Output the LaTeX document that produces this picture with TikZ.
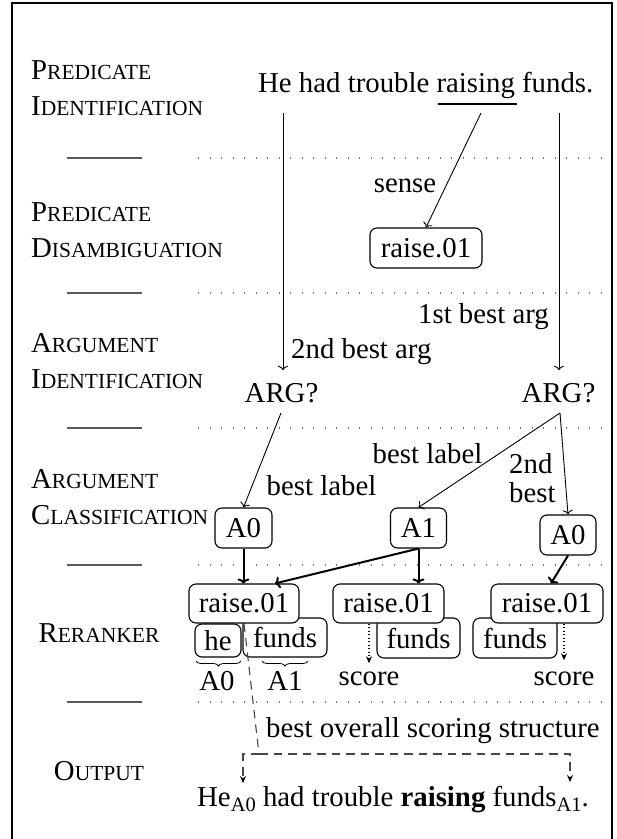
\documentclass[tikz,border=0pt]{standalone}
\usepackage{fontspec}
\setmainfont{Liberation Serif}
\usetikzlibrary{arrows.meta,decorations.pathreplacing}
\newcommand\fs{\fontsize{28.8}{34}\selectfont}
\newcommand\scz{\fontsize{21.5}{26}\selectfont}
\newcommand\SC[2]{#1{\scz #2}}
\newcommand\subs[1]{\raisebox{-5pt}{\fontsize{20.5}{24}\selectfont #1}}
\begin{document}
\begin{tikzpicture}[x=1pt,y=-1pt,
  every node/.style={inner sep=0pt, font=\fs},
  lab/.style={anchor=base west},
  box/.style={draw, rounded corners=7pt, line width=1.1pt, fill=white, inner sep=0pt},
  arr/.style={-{To[length=4.5pt,width=10pt]}, line width=0.9pt},
  tarr/.style={-{To[length=5pt,width=12pt]}, line width=2pt},
  dashline/.style={dash pattern=on 8.5pt off 6pt, line width=1.1pt, draw=black!72},
  sarr/.style={-{Stealth[length=7pt,width=6pt,color=black]}},
  dotarr/.style={dash pattern=on 1pt off 2.5pt, line width=1.1pt, -{Stealth[length=7pt,width=6pt]}},
  sepline/.style={draw=black!65, line width=1.3pt},
  sepdots/.style={draw=black!55, line width=1.2pt, dash pattern=on 1.2pt off 10.3pt},
  brc/.style={decorate, decoration={brace, mirror, amplitude=5pt}, line width=0.8pt}
]
\useasboundingbox (0,0) rectangle (617,839);
\draw[line width=2.6pt] (12,3) rectangle (612,843);

% stage labels
\node[lab] (L1a) at (31,79) {\SC{P}{REDICATE}};
\node[lab] (L1b) at (31,115) {\SC{I}{DENTIFICATION}};
\node[lab] (L2a) at (31,221) {\SC{P}{REDICATE}};
\node[lab] (L2b) at (31,257) {\SC{D}{ISAMBIGUATION}};
\node[lab] (L3a) at (31,352) {\SC{A}{RGUMENT}};
\node[lab] (L3b) at (31,388) {\SC{I}{DENTIFICATION}};
\node[lab] (L4a) at (31,488) {\SC{A}{RGUMENT}};
\node[lab] (L4b) at (31,524) {\SC{C}{LASSIFICATION}};
\node[anchor=base] (L5) at (99,642) {\SC{R}{ERANKER}};
\node[anchor=base] (L6) at (99,780) {\SC{O}{UTPUT}};

% separators
\foreach \yy in {158,293,428,565,702}{
  \draw[sepline] (67,\yy) -- (142,\yy);
  \draw[sepdots] (198,\yy) -- (612,\yy);
}

% row 1
\node[anchor=base west] (sent) at (258,92) {He had trouble raising funds.};
\draw[line width=1.6pt] (438,104) -- (516.5,104);
\coordinate (s1) at (283,113);
\coordinate (s2) at (559,113);
\coordinate (s3) at (481,113);

% row 2
\node[box, minimum width=112pt, minimum height=40pt] (rtop) at (426,248) {raise.01};
\node[anchor=base] (sense) at (405,192) {sense};
\draw[arr] (s3) -- (rtop.north);

% row 3
\node[anchor=base] (arg1) at (281.5,402) {ARG?};
\node[anchor=base] (arg2) at (558.5,402) {ARG?};
\draw[arr, shorten >=12.5pt] (s1) -- (s1 |- arg1.north);
\draw[arr, shorten >=12.5pt] (s2) -- (s2 |- arg2.north);
\node[anchor=base east] (lab1st) at (549,323) {1st best arg};
\node[anchor=base west] (lab2nd) at (291,358) {2nd best arg};

% row 4
\node[box, minimum width=57pt, minimum height=40pt] (c1) at (243.5,528) {A0};
\node[box, minimum width=56pt, minimum height=40pt] (c2) at (418.5,528) {A1};
\node[box, minimum width=56pt, minimum height=40pt] (c3) at (568,535) {A0};
\coordinate (a1s) at (281,413);
\coordinate (a2s) at (560,413);
\draw[arr] (a1s) -- (c1.north);
\draw[arr] (a2s) -- (c2.north);
\draw[arr] (a2s) -- (c3.north);
\node[anchor=base] (bl1) at (321.5,495) {best label};
\node[anchor=base] (bl2) at (427.5,463) {best label};
\node[anchor=base west] (nd1) at (509,473) {2nd};
\node[anchor=base west] (nd2) at (509,502) {best};

% row 5
\node[box, minimum width=46pt, minimum height=33pt] (he) at (218,640.5) {he};
\node[box, minimum width=84pt, minimum height=39pt] (f1) at (285,637.5) {funds};
\node[box, minimum width=110pt, minimum height=39pt] (r1) at (244,603.5) {raise.01};
\node[box, minimum width=83pt, minimum height=40pt] (f2) at (418.5,638) {funds};
\node[box, minimum width=111pt, minimum height=39pt] (r2) at (388.5,603.5) {raise.01};
\node[box, minimum width=84pt, minimum height=40pt] (f3) at (515,638) {funds};
\node[box, minimum width=112pt, minimum height=39pt] (r3) at (547,603.5) {raise.01};

\draw[tarr] (c1.south) -- (c1.south |- r1.north);
\draw[tarr] (c2.south) -- ([xshift=31pt]r1.north);
\draw[tarr] (c2.south) -- (c2.south |- r2.north);
\draw[tarr] (c3.south) -- ([xshift=4pt]r3.north);

\draw[brc] (196,661) -- (241,661);
\draw[brc] (262,661) -- (308,661);
\node[anchor=base] (bA0) at (217,690) {A0};
\node[anchor=base] (bA1) at (285,690) {A1};

\node[anchor=base] (sc1) at (369,685) {score};
\node[anchor=base] (sc2) at (564,685) {score};
\draw[dotarr, shorten >=8pt] (r2.south -| sc1.north) -- (sc1.north);
\draw[dotarr, shorten >=11pt] (r3.south -| sc2.north) -- (sc2.north);

% row 6
\node[anchor=base west] (best) at (266,737) {best overall scoring structure};
\node[anchor=base west] (out) at (197,806) {He\subs{A0} had trouble \textbf{raising} funds\subs{A1}.};
\coordinate (dj) at (259,754);
\coordinate (dhe) at (243,783);
\coordinate (dfu) at (570,782);
\draw[dashline] (r1.south) -- (dj);
\draw[dashline, sarr] (dj) -| (dhe);
\draw[dashline, sarr] (dj) -| (dfu);
\end{tikzpicture}
\end{document}
